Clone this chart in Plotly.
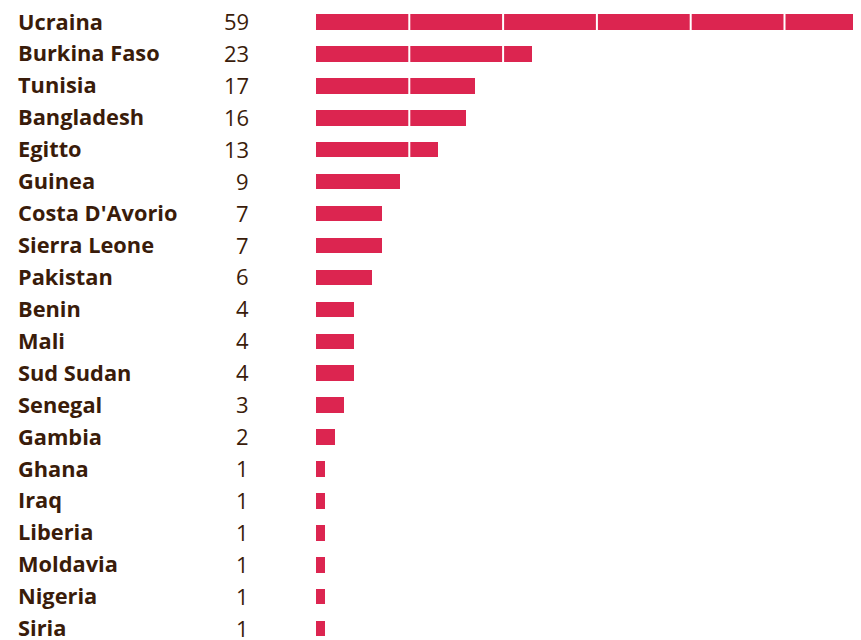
import plotly.graph_objects as go

countries = ["Ucraina", "Burkina Faso", "Tunisia", "Bangladesh", "Egitto", "Guinea",
             "Costa D'Avorio", "Sierra Leone", "Pakistan", "Benin", "Mali", "Sud Sudan",
             "Senegal", "Gambia", "Ghana", "Iraq", "Liberia", "Moldavia", "Nigeria", "Siria"]
values = [59, 23, 17, 16, 13, 9, 7, 7, 6, 4, 4, 4, 3, 2, 1, 1, 1, 1, 1, 1]
grid_ticks = [10, 20, 30, 40, 50]

BAR = "#dc2550"
TXT = "#3a1c0a"
W, H = 853, 632
x0_px = 307.5
px_per_unit = 9.38

fig = go.Figure(go.Bar(
    x=values, y=list(range(len(countries))), orientation="h",
    marker=dict(color=BAR, line=dict(width=0)), width=0.485,
    hoverinfo="skip",
))

for i, (c, v) in enumerate(zip(countries, values)):
    fig.add_annotation(x=8 / W, y=i, xref="paper", yref="y", text=c,
                       showarrow=False, xanchor="left", yanchor="middle", yshift=1,
                       font=dict(family="Open Sans", size=21.8, color=TXT, weight=700))
    fig.add_annotation(x=243 / W, y=i, xref="paper", yref="y", text=str(v),
                       showarrow=False, xanchor="right", yanchor="middle", yshift=1,
                       font=dict(family="Open Sans", size=22, color=TXT))

for t in grid_ticks:
    fig.add_shape(type="line", xref="x", yref="paper", x0=t, x1=t, y0=0, y1=1,
                  line=dict(color="white", width=2), layer="above")

fig.update_layout(
    width=W, height=H,
    margin=dict(l=0, r=0, t=0, b=0),
    paper_bgcolor="white", plot_bgcolor="white",
    showlegend=False,
    xaxis=dict(domain=[x0_px / W, 1], range=[0, (W - x0_px) / px_per_unit],
               showticklabels=False, showgrid=False, zeroline=False,
               showline=False, fixedrange=True),
    yaxis=dict(range=[19.355, -0.4385], showticklabels=False, showgrid=False,
               zeroline=False, fixedrange=True),
    bargap=0,
)

fig.write_html("out.html")
